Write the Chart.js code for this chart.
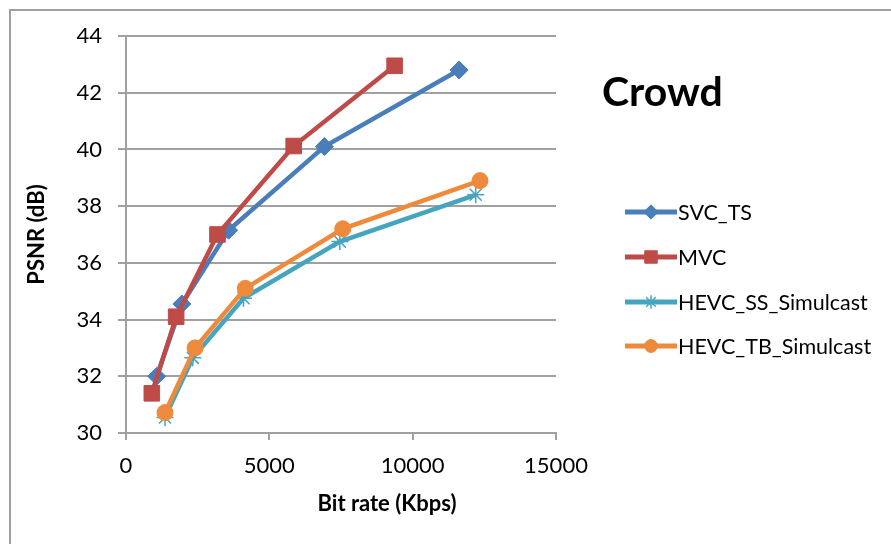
<!DOCTYPE html>
<html>
<head>
<meta charset="utf-8">
<script src="https://cdn.jsdelivr.net/npm/chart.js@4/dist/chart.umd.min.js"></script>
<style>
  html, body { margin: 0; padding: 0; background: #fff; }
  #wrap { width: 891px; height: 544px; }
</style>
</head>
<body>
<div id="wrap"><canvas id="c" width="891" height="544"></canvas></div>
<script>
// PSNR vs bit rate, "Crowd" sequence
const svcRate = [1070, 1950, 3580, 6920, 11620];
const svcPsnr = [32.0, 34.55, 37.15, 40.1, 42.8];

const mvcRate = [900, 1750, 3190, 5850, 9370];
const mvcPsnr = [31.4, 34.1, 37.0, 40.12, 42.95];

const ssRate = [1360, 2330, 4100, 7460, 12200];
const ssPsnr = [30.55, 32.65, 34.75, 36.75, 38.4];

const tbRate = [1360, 2410, 4160, 7560, 12350];
const tbPsnr = [30.72, 33.0, 35.1, 37.2, 38.9];

const seriesNames = ['SVC_TS', 'MVC', 'HEVC_SS_Simulcast', 'HEVC_TB_Simulcast'];
const chartTitle = 'Crowd';
const xTitle = 'Bit rate (Kbps)';
const yTitle = 'PSNR (dB)';

const FONT = 'Lato, "Open Sans", sans-serif';
Chart.defaults.font.family = FONT;
Chart.defaults.color = '#000';

function pts(xs, ys) {
  return xs.map(function(x, i) { return { x: x, y: ys[i] }; });
}

const styles = [
  { color: '#4A7EBB', point: 'rectRot', r: 9 },
  { color: '#BE4B48', point: 'rect', r: 11 },
  { color: '#45A5BF', point: 'star', r: 8.5 },
  { color: '#EE8A3C', point: 'circle', r: 8 }
];

const rawData = [[svcRate, svcPsnr], [mvcRate, mvcPsnr], [ssRate, ssPsnr], [tbRate, tbPsnr]];

const datasets = rawData.map(function(d, i) {
  const s = styles[i];
  return {
    label: seriesNames[i],
    data: pts(d[0], d[1]),
    borderColor: s.color,
    backgroundColor: s.color,
    borderWidth: 4.5,
    pointStyle: s.point,
    pointRadius: s.r,
    pointBorderWidth: s.point === 'star' ? 1.5 : 1,
    pointBackgroundColor: s.color,
    pointBorderColor: s.color,
    showLine: true,
    tension: 0,
    order: 4 - i   // later series drawn on top, like Excel
  };
});

// frame, title, x axis title and Excel-style legend
const decor = {
  id: 'decor',
  beforeDraw(chart) {
    const ctx = chart.ctx;
    ctx.save();
    ctx.fillStyle = '#fff';
    ctx.fillRect(0, 0, chart.width, chart.height);
    ctx.strokeStyle = '#a0a0a0';
    ctx.lineWidth = 2;
    ctx.strokeRect(10, 10, 1000, 1000);
    ctx.restore();
  },
  afterDraw(chart) {
    const ctx = chart.ctx;
    ctx.save();
    ctx.fillStyle = '#000';
    ctx.textBaseline = 'middle';
    ctx.textAlign = 'left';
    ctx.font = 'bold 41px ' + FONT;
    ctx.fillText(chartTitle, 602, 93);

    ctx.textAlign = 'center';
    ctx.font = 'bold 22px ' + FONT;
    ctx.fillText(xTitle, 387, 504);

    const rows = [212, 257, 302, 346];
    ctx.textAlign = 'left';
    ctx.font = '21.5px ' + FONT;
    chart.data.datasets.forEach(function(ds, i) {
      const y = rows[i];
      ctx.strokeStyle = ds.borderColor;
      ctx.lineWidth = 5;
      ctx.beginPath();
      ctx.moveTo(625, y);
      ctx.lineTo(677, y);
      ctx.stroke();
      ctx.fillStyle = ds.backgroundColor;
      ctx.lineWidth = ds.pointBorderWidth;
      Chart.helpers.drawPoint(ctx, {
        pointStyle: ds.pointStyle,
        radius: ds.pointRadius * 0.8,
        rotation: 0,
        borderWidth: ds.pointBorderWidth
      }, 651, y);
      ctx.fillStyle = '#000';
      ctx.fillText(ds.label, 678, y + 1);
    });
    ctx.restore();
  }
};

new Chart(document.getElementById('c'), {
  type: 'scatter',
  data: { datasets: datasets },
  plugins: [decor],
  options: {
    responsive: false,
    animation: false,
    layout: { padding: { left: 0, top: 36, right: 335, bottom: 0 } },
    plugins: {
      legend: { display: false },
      tooltip: { enabled: false }
    },
    scales: {
      x: {
        type: 'linear',
        min: 0,
        max: 15000,
        afterFit(scale) { scale.height = 111; },
        ticks: {
          stepSize: 5000, padding: 13, font: { size: 22 }, maxRotation: 0,
          callback: function(v) { return String(v); }
        },
        grid: { drawOnChartArea: false, drawTicks: true, tickLength: 7, color: '#a0a0a0', lineWidth: 2 },
        border: { color: '#a0a0a0', width: 2 }
      },
      y: {
        type: 'linear',
        min: 30,
        max: 44,
        afterFit(scale) { scale.width = 126; },
        ticks: { stepSize: 2, padding: 16, font: { size: 22 } },
        grid: { color: '#a0a0a0', lineWidth: 2, tickLength: 8 },
        border: { color: '#a0a0a0', width: 2 },
        title: {
          display: true,
          text: yTitle,
          font: { size: 22, weight: 'bold' },
          padding: { top: 24, bottom: 0 }
        }
      }
    }
  }
});
</script>
</body>
</html>
